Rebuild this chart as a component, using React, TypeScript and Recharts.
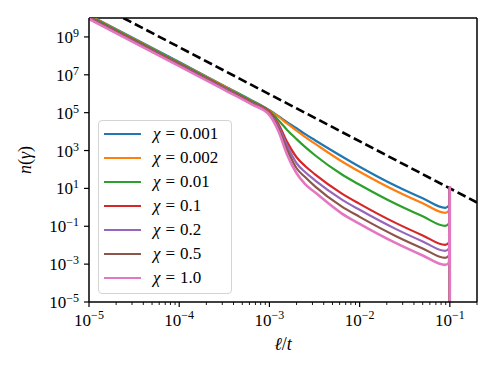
import { LineChart, Line, XAxis, YAxis, Legend, ReferenceLine } from "recharts"

// l/t sample positions shared by every chi curve (last two points make the spike at 0.1)
const lengthRatio = [
  1e-5, 1e-4, 3.2e-4, 6.3e-4, 1e-3, 1.26e-3, 1.58e-3, 2e-3, 2.5e-3, 3.2e-3,
  6.3e-3, 1e-2, 2.5e-2, 5e-2, 8.9e-2, 9.8e-2, 9.99e-2, 1e-1,
]

const nChi0001 = [1.44e10, 4.7e7, 2.5e6, 4.6e5, 1.36e5, 6.5e4, 3.1e4, 1.5e4, 7.3e3, 3.5e3, 500, 139, 13.7, 2.99, 0.94, 1.28, 11.4, 1e-8]
const nChi0002 = [1.36e10, 4.4e7, 2.4e6, 4.3e5, 1.28e5, 6.1e4, 2.6e4, 1.12e4, 5.1e3, 2.3e3, 272, 75.5, 7.46, 1.63, 0.512, 0.693, 11.4, 1e-8]
const nChi001 = [1.28e10, 4.2e7, 2.2e6, 4.1e5, 1.2e5, 4.0e4, 1.19e4, 4.0e3, 1.5e3, 564, 55.7, 15.5, 1.53, 0.334, 0.105, 0.142, 11.4, 1e-8]
const nChi01 = [1.13e10, 3.7e7, 2.0e6, 3.6e5, 1.06e5, 2.5e4, 2.7e3, 443, 148, 55.7, 5.5, 1.53, 0.151, 0.033, 0.0104, 0.0141, 11.4, 1e-8]
const nChi02 = [1.06e10, 3.5e7, 1.9e6, 3.4e5, 9.4e4, 1.9e4, 1.7e3, 213, 71, 26.8, 2.65, 0.738, 0.0728, 0.0159, 0.00499, 0.00678, 11.4, 1e-8]
const nChi05 = [1.0e10, 3.3e7, 1.75e6, 3.2e5, 8.3e4, 1.5e4, 1.04e3, 116, 38.6, 12.9, 1.13, 0.314, 0.031, 0.00678, 0.00213, 0.00288, 11.4, 1e-8]
const nChi1 = [8.9e9, 2.9e7, 1.55e6, 2.8e5, 7.4e4, 1.05e4, 564, 63, 16.5, 6.2, 0.482, 0.134, 0.0132, 0.00288, 0.00091, 0.00123, 11.4, 1e-8]

// dashed reference power law
const guideRatio = [2.4e-5, 0.2]
const guideN = [1e10, 1.8]

const chiLabels = ["0.001", "0.002", "0.01", "0.1", "0.2", "0.5", "1.0"]
const chiColors = ["#1f77b4", "#ff7f0e", "#2ca02c", "#d62728", "#9467bd", "#8c564b", "#e377c2"]
const chiSeries = [nChi0001, nChi0002, nChi001, nChi01, nChi02, nChi05, nChi1]

const xMajorTicks = [1e-5, 1e-4, 1e-3, 1e-2, 1e-1]
const xTickExponents = ["−5", "−4", "−3", "−2", "−1"]
const minorSteps = [2, 3, 4, 5, 6, 7, 8, 9]
const xMinorTicks = [...xMajorTicks.slice(0, 4).flatMap((d) => minorSteps.map((k) => k * d)), 0.2]

const yTicks = [1e-5, 1e-3, 1e-1, 1e1, 1e3, 1e5, 1e7, 1e9]
const yTickExponents = ["−5", "−3", "−1", "1", "3", "5", "7", "9"]

const FONT = "'Liberation Serif', serif"

const toRows = (xs: number[], ys: number[]) => xs.map((x, i) => ({ x, n: ys[i] }))

function XTick({ x, y, payload }: any) {
  const idx = xMajorTicks.indexOf(payload.value)
  const major = idx >= 0
  return (
    <g>
      <line x1={x} x2={x} y1={y} y2={y + (major ? 5 : 3)} stroke="#000" strokeWidth={major ? 1.2 : 0.9} />
      {major && (
        <text x={x} y={y + 24} textAnchor="middle" fontFamily={FONT} fontSize={17} fill="#000">
          10
          <tspan dy={-7} fontSize={12}>{xTickExponents[idx]}</tspan>
        </text>
      )}
    </g>
  )
}

function YTick({ x, y, payload }: any) {
  const idx = yTicks.indexOf(payload.value)
  return (
    <g>
      <line x1={x - 5} x2={x} y1={y} y2={y} stroke="#000" strokeWidth={1.2} />
      <text x={x - 10} y={y + 6} textAnchor="end" fontFamily={FONT} fontSize={17} fill="#000">
        10
        <tspan dy={-6} fontSize={12}>{yTickExponents[idx]}</tspan>
      </text>
    </g>
  )
}

function ChiLegend() {
  return (
    <div
      style={{
        border: "1px solid #d4d4d4",
        borderRadius: 4,
        background: "rgba(255,255,255,0.8)",
        padding: "1px 0 3px 5px",
        width: 134,
        boxSizing: "border-box",
        fontFamily: FONT,
        fontSize: 17,
        color: "#000",
      }}
    >
      {chiLabels.map((c, i) => (
        <div key={c} style={{ display: "flex", alignItems: "center", height: 24 }}>
          <svg width={37} height={4} style={{ display: "block" }}>
            <line x1={0} x2={37} y1={2} y2={2} stroke={chiColors[i]} strokeWidth={2.2} />
          </svg>
          <span style={{ marginLeft: 12, whiteSpace: "nowrap" }}>
            <i>χ</i>
            <span style={{ margin: "0 5px" }}>=</span>
            {c}
          </span>
        </div>
      ))}
    </div>
  )
}

export default function App() {
  return (
    <LineChart width={488} height={364} margin={{ top: 10, right: 19, bottom: 10, left: 0 }}>
      <XAxis
        dataKey="x"
        type="number"
        scale="log"
        domain={[1e-5, 0.2]}
        allowDataOverflow
        ticks={[...xMajorTicks, ...xMinorTicks]}
        interval={0}
        tickSize={0}
        tickMargin={0}
        tickLine={false}
        tick={<XTick />}
        height={60}
        axisLine={{ stroke: "#000", strokeWidth: 1.5 }}
        label={{
          content: (p: any) => {
            const vb = p.viewBox
            return (
              <text x={vb.x + vb.width / 2} y={vb.y + 48} textAnchor="middle" fontFamily={FONT} fontSize={18} fill="#000">
                <tspan fontStyle="italic">ℓ</tspan>/<tspan fontStyle="italic">t</tspan>
              </text>
            )
          },
        }}
      />
      <YAxis
        dataKey="n"
        type="number"
        scale="log"
        domain={[1e-5, 1e10]}
        allowDataOverflow
        ticks={yTicks}
        interval={0}
        tickSize={0}
        tickMargin={0}
        tickLine={false}
        tick={<YTick />}
        width={81}
        axisLine={{ stroke: "#000", strokeWidth: 1.5 }}
        label={{
          content: (p: any) => {
            const vb = p.viewBox
            const cy = vb.y + vb.height / 2
            return (
              <text x={23} y={cy} transform={`rotate(-90 23 ${cy})`} textAnchor="middle" fontFamily={FONT} fontSize={18} fill="#000">
                <tspan fontStyle="italic">n</tspan>(<tspan fontStyle="italic">γ</tspan>)
              </text>
            )
          },
        }}
      />
      <ReferenceLine x={0.2} stroke="#000" strokeWidth={1.5} ifOverflow="visible" />
      <ReferenceLine y={1e10} stroke="#000" strokeWidth={1.5} ifOverflow="visible" />
      <Line
        data={toRows(guideRatio, guideN)}
        dataKey="n"
        type="linear"
        stroke="#000"
        strokeWidth={2.6}
        strokeDasharray="9 4"
        dot={false}
        activeDot={false}
        legendType="none"
        isAnimationActive={false}
      />
      {chiSeries.map((ys, i) => (
        <Line
          key={chiLabels[i]}
          data={toRows(lengthRatio, ys)}
          dataKey="n"
          name={`χ = ${chiLabels[i]}`}
          type="monotone"
          stroke={chiColors[i]}
          strokeWidth={i === 6 ? 2.6 : 2.2}
          dot={false}
          activeDot={false}
          isAnimationActive={false}
        />
      ))}
      <Legend
        layout="horizontal"
        align="center"
        verticalAlign="middle"
        content={<ChiLegend />}
        wrapperStyle={{ left: 90, top: 112, width: "auto", height: "auto" }}
      />
    </LineChart>
  )
}
